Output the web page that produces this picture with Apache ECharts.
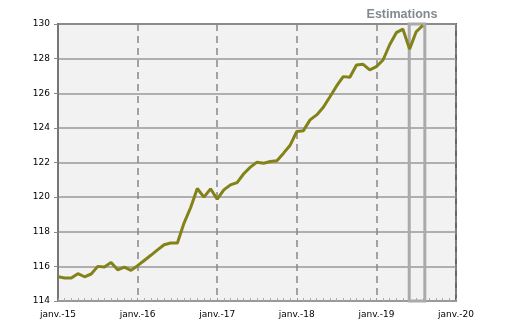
<!DOCTYPE html>
<html>
<head>
<meta charset="utf-8">
<script src="https://cdn.jsdelivr.net/npm/echarts@6/dist/echarts.min.js"></script>
<style>html,body{margin:0;padding:0;background:#fff;}#c{width:510px;height:327px;}</style>
</head>
<body>
<div id="c"></div>
<script>
// Monthly values, janv. 2015 .. août 2019
const values2015 = [115.4, 115.33, 115.33, 115.58, 115.4, 115.56, 116.0, 115.96, 116.23, 115.8, 115.96, 115.77];
const values2016 = [116.04, 116.34, 116.64, 116.95, 117.25, 117.35, 117.35, 118.5, 119.4, 120.5, 120.0, 120.48];
const values2017 = [119.88, 120.42, 120.71, 120.84, 121.35, 121.73, 122.02, 121.96, 122.06, 122.1, 122.54, 123.0];
const values2018 = [123.79, 123.84, 124.46, 124.75, 125.19, 125.8, 126.42, 126.96, 126.92, 127.63, 127.67, 127.35];
const values2019 = [127.54, 127.92, 128.8, 129.5, 129.7, 128.55, 129.55, 129.92];
const xTickLabels = ['janv.-15', 'janv.-16', 'janv.-17', 'janv.-18', 'janv.-19', 'janv.-20'];
const estimationStart = 52.95; // month index (≈ juin 2019)
const estimationEnd = 55.3;
const estimationLabel = 'Estimations';

const allValues = [].concat(values2015, values2016, values2017, values2018, values2019);
const seriesData = allValues.map((v, i) => [i, v]);

const chart = echarts.init(document.getElementById('c'), null, {renderer: 'canvas'});
const font = 'DejaVu Sans';
chart.setOption({
  animation: false,
  grid: {left: 58, right: 54, top: 24, bottom: 26, show: true, backgroundColor: '#f2f2f2', borderColor: '#666', borderWidth: 2},
  xAxis: {
    type: 'value', min: 0, max: 60, interval: 12,
    axisLine: {show: true, lineStyle: {color: '#999', width: 2}},
    axisTick: {show: true, inside: true, length: 3, lineStyle: {color: '#999'}},
    minorTick: {show: true, splitNumber: 12, length: 3, lineStyle: {color: '#aaa'}},
    axisLabel: {fontFamily: font, fontSize: 9, color: '#000', margin: 9,
      formatter: v => xTickLabels[Math.round(v / 12)] || ''},
    splitLine: {show: true, lineStyle: {color: '#888', width: 1.5, type: [7, 5]}}
  },
  yAxis: {
    type: 'value', min: 114, max: 130, interval: 2,
    axisLine: {show: true, lineStyle: {color: '#777', width: 2}},
    axisTick: {show: true, inside: false, length: 4, lineStyle: {color: '#888'}},
    axisLabel: {fontFamily: font, fontSize: 9, color: '#000', margin: 8},
    splitLine: {show: true, lineStyle: {color: '#999', width: 1.5}}
  },
  series: [{
    type: 'line', data: seriesData, showSymbol: false, symbol: 'none',
    lineStyle: {color: '#828219', width: 3},
    z: 3,
    markArea: {
      silent: true,
      itemStyle: {color: 'rgba(0,0,0,0)', borderColor: '#aaa', borderWidth: 3},
      data: [[{xAxis: estimationStart, yAxis: 114}, {xAxis: estimationEnd, yAxis: 130}]]
    }
  }],
  graphic: [{
    type: 'text', x: 402, y: 15, z: 10,
    style: {text: estimationLabel, fontFamily: 'Liberation Sans', fontWeight: 'bold', fontSize: 12.5, fill: '#838891', textAlign: 'center', textVerticalAlign: 'middle'}
  }]
});
</script>
</body>
</html>
